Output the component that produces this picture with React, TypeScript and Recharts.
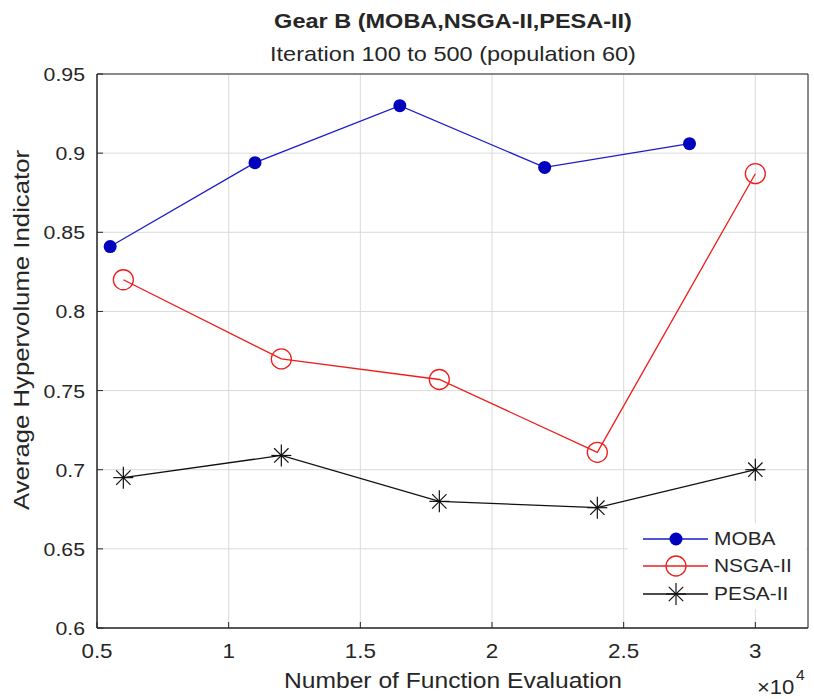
import React from 'react'
import { LineChart, Line, XAxis, YAxis, CartesianGrid, Legend, ReferenceLine } from 'recharts'

const FONT = "'Liberation Sans', Arial, Helvetica, sans-serif"
const INK = '#262626'

// function evaluations (x) and average hypervolume (y)
const mobaX = [5500, 11000, 16500, 22000, 27500]
const mobaY = [0.841, 0.894, 0.930, 0.891, 0.906]
const nsgaX = [6000, 12000, 18000, 24000, 30000]
const nsgaY = [0.820, 0.770, 0.757, 0.711, 0.887]
const pesaX = [6000, 12000, 18000, 24000, 30000]
const pesaY = [0.695, 0.709, 0.680, 0.676, 0.700]

const xTicks = [5000, 10000, 15000, 20000, 25000, 30000]
const yTicks = [0.6, 0.65, 0.7, 0.75, 0.8, 0.85, 0.9, 0.95]
const xDomain = [5000, 32000]
const yDomain = [0.6, 0.95]

const series = [
  { name: 'MOBA', color: '#1a1acc' },
  { name: 'NSGA-II', color: '#f01c1c' },
  { name: 'PESA-II', color: '#111111' },
]

const toRows = (xs: number[], ys: number[]) => xs.map((x, i) => ({ x, y: ys[i] }))
const moba = toRows(mobaX, mobaY)
const nsga = toRows(nsgaX, nsgaY)
const pesa = toRows(pesaX, pesaY)

// stretched text, the source image is a bit wider than Arial
const T = ({ x, y, size, anchor = 'middle', weight = 'normal', sx = 1.12, rotate = 0, children }: any) => (
  <text
    transform={`translate(${x},${y}) rotate(${rotate}) scale(${sx},1)`}
    textAnchor={anchor}
    fontSize={size}
    fontWeight={weight}
    fontFamily={FONT}
    fill={INK}
  >
    {children}
  </text>
)

// MATLAB style: tick marks point into the plot
const XTick = (props: any) => {
  const { x, y, payload } = props
  return (
    <g>
      <line x1={x} y1={y} x2={x} y2={y - 6} stroke={INK} />
      <T x={x} y={y + 30} size={20}>{String(payload.value / 1e4)}</T>
    </g>
  )
}
const XTopTick = ({ x, y }: any) => <line x1={x} y1={y} x2={x} y2={y + 6} stroke={INK} />

const YTick = (props: any) => {
  const { x, y, payload } = props
  return (
    <g>
      <line x1={x} y1={y} x2={x + 6} y2={y} stroke={INK} />
      <T x={x - 12} y={y + 7} size={19} anchor="end">{String(+payload.value.toFixed(2))}</T>
    </g>
  )
}
const YRightTick = ({ x, y }: any) => <line x1={x} y1={y} x2={x - 6} y2={y} stroke={INK} />

const Star = ({ cx, cy, r = 10, color = '#111' }: any) => {
  const d = r * 0.72
  return (
    <g stroke={color} strokeWidth={1.2}>
      <line x1={cx} y1={cy - r - 1} x2={cx} y2={cy + r + 1} />
      <line x1={cx - r} y1={cy} x2={cx + r} y2={cy} />
      <line x1={cx - d} y1={cy - d} x2={cx + d} y2={cy + d} />
      <line x1={cx - d} y1={cy + d} x2={cx + d} y2={cy - d} />
    </g>
  )
}

const LegendBox = () => (
  <div style={{ background: '#fff', width: 178, height: 86, fontFamily: FONT, fontSize: 19, color: INK }}>
    {series.map((s, i) => (
      <div key={s.name} style={{ display: 'flex', alignItems: 'center', height: 27.5, paddingTop: i === 0 ? 2 : 0 }}>
        <svg width={86} height={26}>
          <line x1={15} y1={13} x2={80} y2={13} stroke={s.color} strokeWidth={1.3} />
          {i === 0 && <circle cx={48} cy={13} r={6.5} fill="#0000bf" />}
          {i === 1 && <circle cx={48} cy={13} r={10} fill="none" stroke={s.color} strokeWidth={1.3} />}
          {i === 2 && <Star cx={48} cy={13} r={10} color={s.color} />}
        </svg>
        <span style={{ display: 'inline-block', transform: 'scaleX(1.1)', transformOrigin: 'left' }}>{s.name}</span>
      </div>
    ))}
  </div>
)

const Texts = () => (
  <g>
    <T x={453} y={28} size={21} weight="bold">Gear B (MOBA,NSGA-II,PESA-II)</T>
    <T x={453} y={61} size={21}>Iteration 100 to 500 (population 60)</T>
    <T x={453} y={688} size={22}>Number of Function Evaluation</T>
    <T x={757} y={694} size={21} anchor="start" sx={1.05}>{'\u00d710'}</T>
    <T x={796} y={680} size={15} anchor="start" sx={1.05}>4</T>
    <T x={29} y={330} size={23} rotate={-90} sx={1.12}>Average Hypervolume Indicator</T>
  </g>
)

export default function App() {
  return (
    <div style={{ position: 'absolute', left: 0, top: 0, background: '#fff' }}>
      <LineChart width={814} height={699} margin={{ top: 74, right: 6, bottom: 0, left: 0 }}>
        <CartesianGrid stroke="#dadada" strokeWidth={1} />
        <XAxis
          dataKey="x"
          type="number"
          domain={xDomain}
          ticks={xTicks}
          allowDataOverflow
          height={71}
          tickLine={false}
          tickSize={0}
          tickMargin={0}
          tick={<XTick />}
          stroke={INK}
          label={{ content: () => <Texts /> }}
        />
        <XAxis
          xAxisId="top"
          orientation="top"
          dataKey="x"
          type="number"
          domain={xDomain}
          ticks={xTicks}
          allowDataOverflow
          height={0}
          tickLine={false}
          tickSize={0}
          tickMargin={0}
          tick={<XTopTick />}
          stroke={INK}
        />
        <YAxis
          type="number"
          domain={yDomain}
          ticks={yTicks}
          allowDataOverflow
          width={97}
          tickLine={false}
          tickSize={0}
          tickMargin={0}
          tick={<YTick />}
          stroke={INK}
        />
        <YAxis
          yAxisId="right"
          orientation="right"
          type="number"
          domain={yDomain}
          ticks={yTicks}
          allowDataOverflow
          width={0}
          tickLine={false}
          tickSize={0}
          tickMargin={0}
          tick={<YRightTick />}
          stroke={INK}
        />
        {/* box edges drawn above the grid */}
        <ReferenceLine x={xDomain[0]} stroke={INK} />
        <ReferenceLine x={xDomain[1]} stroke={INK} />
        <ReferenceLine y={yDomain[0]} stroke={INK} />
        <ReferenceLine y={yDomain[1]} stroke={INK} />
        {/* invisible series so the top/right axes get drawn */}
        <Line
          data={pesa}
          dataKey="y"
          xAxisId="top"
          yAxisId="right"
          stroke="none"
          dot={false}
          activeDot={false}
          legendType="none"
          isAnimationActive={false}
        />
        <Line
          data={moba}
          dataKey="y"
          name="MOBA"
          stroke={series[0].color}
          strokeWidth={1.3}
          isAnimationActive={false}
          dot={(p: any) => <circle key={p.index} cx={p.cx} cy={p.cy} r={6.5} fill="#0000bf" />}
        />
        <Line
          data={nsga}
          dataKey="y"
          name="NSGA-II"
          stroke={series[1].color}
          strokeWidth={1.3}
          isAnimationActive={false}
          dot={(p: any) => (
            <circle key={p.index} cx={p.cx} cy={p.cy} r={10} fill="none" stroke={series[1].color} strokeWidth={1.3} />
          )}
        />
        <Line
          data={pesa}
          dataKey="y"
          name="PESA-II"
          stroke={series[2].color}
          strokeWidth={1.3}
          isAnimationActive={false}
          dot={(p: any) => <Star key={p.index} cx={p.cx} cy={p.cy} r={10} />}
        />
        <Legend
          layout="vertical"
          align="center"
          verticalAlign="middle"
          wrapperStyle={{ left: 628, top: 523, width: 178, height: 86 }}
          content={() => <LegendBox />}
        />
      </LineChart>
    </div>
  )
}
